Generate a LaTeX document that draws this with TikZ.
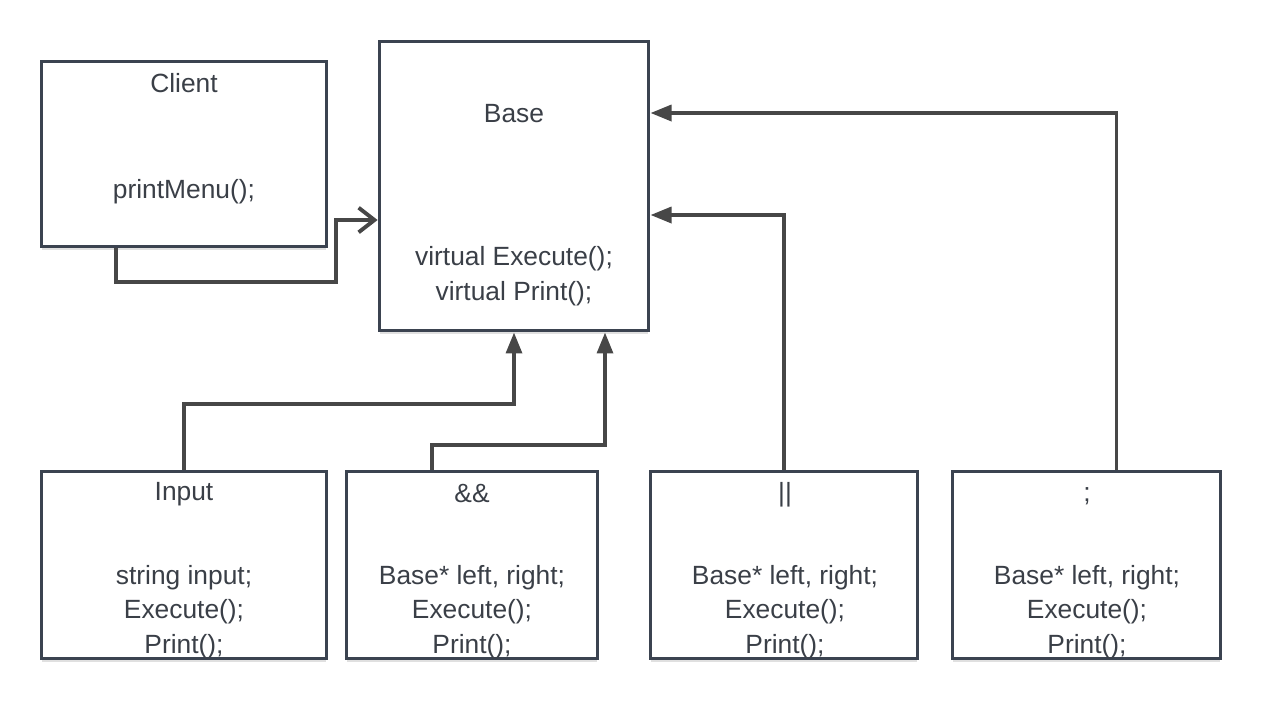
\documentclass[tikz,border=0pt]{standalone}
\usepackage{fontspec}
\setmainfont{Liberation Sans}
\usepackage{xcolor}
\usepackage{tikz}
\usetikzlibrary{positioning,arrows.meta,calc,shadows}

\definecolor{boxline}{HTML}{3B4350}
\definecolor{arrline}{HTML}{474747}
\definecolor{txtcol}{HTML}{3A3F47}

\begin{document}
\begin{tikzpicture}[x=0.02cm, y=-0.02cm,
	cls/.style={rectangle, draw=boxline, line width=2.2pt, fill=white, inner sep=0pt,
		drop shadow={shadow xshift=0pt, shadow yshift=-2pt, opacity=0.12, fill=black}},
	lbl/.style={text=txtcol, align=center, inner sep=0pt, font=\fontsize{15}{19.8}\selectfont},
	inh/.style={draw=arrline, line width=2.2pt, -{Triangle[length=12pt, width=9pt]}},
	use/.style={draw=arrline, line width=2.2pt, -{Straight Barb[length=9pt, width=14pt]}}]
	\useasboundingbox (0,0) rectangle (1263,700);

	\node[cls, minimum width=5.7cm, minimum height=3.7cm] (client) at (184,154) {};
	\node[cls, minimum width=5.38cm, minimum height=5.78cm] (base) at (514,186) {};
	\node[cls, minimum width=5.7cm, minimum height=3.74cm] (input) at (184,565) {};
	\node[cls, minimum width=5.02cm, minimum height=3.74cm] (and) at (472,565) {};
	\node[cls, minimum width=5.34cm, minimum height=3.74cm] (or) at (784,565) {};
	\node[cls, minimum width=5.36cm, minimum height=3.74cm] (semi) at (1086.5,565) {};

	\node[lbl] (clientname) at (184,83) {Client};
	\node[lbl] (clientops) at (184,192) {printMenu();};
	\node[lbl] (basename) at (514,114) {Base};
	\node[lbl] (baseops) at (514,276) {virtual Execute();\\virtual Print();};
	\node[lbl] (inputname) at (184,494) {Input};
	\node[lbl] (inputops) at (184,612) {string input;\\Execute();\\Print();};
	\node[lbl] (andname) at (472,494) {\&\&};
	\node[lbl] (andops) at (472,612) {Base* left, right;\\Execute();\\Print();};
	\node[lbl] (orname) at (785,495) {||};
	\node[lbl] (orops) at (785,612) {Base* left, right;\\Execute();\\Print();};
	\node[lbl] (seminame) at (1087,496) {;};
	\node[lbl] (semiops) at (1087,612) {Base* left, right;\\Execute();\\Print();};

	\draw[use] ($(client.south)+(-68,0)$) -- ++(0,34) -- ++(220,0) |- ($(base.west)+(0,34)$);
	\draw[inh] (input.north) |- ($(base.south)+(0,72)$) -- (base.south);
	\draw[inh] ($(and.north)+(-40,0)$) |- ($(base.south)+(91,113)$) -- ($(base.south)+(91,0)$);
	\draw[inh] (or.north) |- ($(base.east)+(0,29)$);
	\draw[inh] ($(semi.north)+(30,0)$) |- ($(base.east)+(0,-73)$);
\end{tikzpicture}
\end{document}
